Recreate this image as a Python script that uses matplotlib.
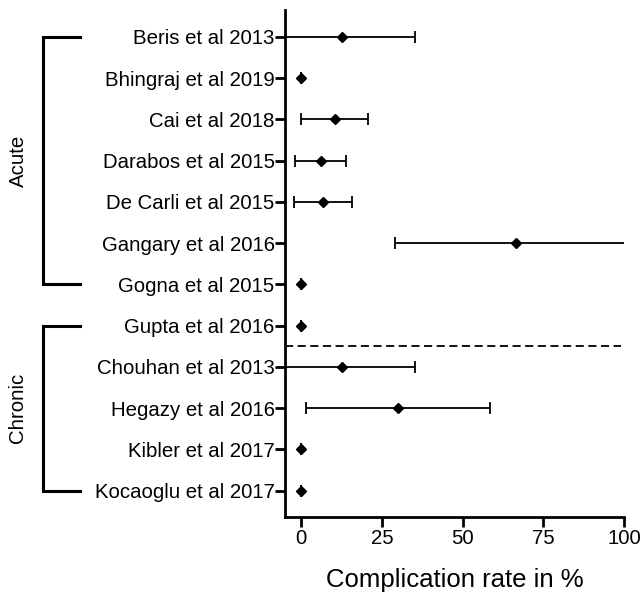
import numpy as np
import matplotlib
matplotlib.use("Agg")
import matplotlib.pyplot as plt
from matplotlib.transforms import blended_transform_factory

plt.rcParams['font.family'] = ['Liberation Sans', 'DejaVu Sans']

# ======================================================
# DATA
# ======================================================
studies = ["Beris et al 2013", "Bhingraj et al 2019", "Cai et al 2018",
           "Darabos et al 2015", "De Carli et al 2015", "Gangary et al 2016",
           "Gogna et al 2015", "Gupta et al 2016", "Chouhan et al 2013",
           "Hegazy et al 2016", "Kibler et al 2017", "Kocaoglu et al 2017"]
rate = [12.5, 0, 10.4, 6.0, 6.7, 66.7, 0, 0, 12.5, 30.0, 0, 0]
ci_low = [-10.4, 0, 0.0, -2.0, -2.3, 29.1, 0, 0, -10.4, 1.6, 0, 0]
ci_high = [35.4, 0, 20.8, 14.0, 15.6, 104.3, 0, 0, 35.4, 58.4, 0, 0]
groups = [("Acute", 0, 6), ("Chronic", 7, 11)]
split_at = 7.5
xticks = [0, 25, 50, 75, 100]

# ======================================================
# FIGURE
# ======================================================
fig = plt.figure(figsize=(6.43, 5.92), dpi=100)
ax = fig.add_axes([285 / 643, 1 - 517 / 592, (624 - 285) / 643, (517 - 10) / 592])

y = np.arange(len(studies))
rate = np.array(rate)
err = [rate - np.array(ci_low), np.array(ci_high) - rate]

ax.errorbar(rate, y, xerr=err, fmt='D', color='black', markersize=5,
            elinewidth=1.3, capsize=4.5, capthick=1.3, clip_on=True)

# dashed separator between the two groups
ax.plot([-5, 99], [split_at, split_at], color='black', linestyle='--',
        linewidth=1.3, dashes=(4.5, 2.5))

ax.set_xlim(-5, 100)
ax.set_ylim(len(studies) - 1 + 0.64, -0.65)
ax.set_yticks(y)
ax.set_yticklabels(studies, fontsize=14.7)
ax.set_xticks(xticks)
ax.set_xticklabels([str(t) for t in xticks], fontsize=14.7)
ax.set_xlabel("Complication rate in %", fontsize=18.5, labelpad=14)

for side in ['top', 'right']:
    ax.spines[side].set_visible(False)
for side in ['left', 'bottom']:
    ax.spines[side].set_linewidth(2.0)
ax.tick_params(axis='both', width=2.0, length=7, pad=0.5)
ax.tick_params(axis='x', pad=2)

# group brackets on the left
trans = blended_transform_factory(fig.transFigure, ax.transData)
xv = 43 / 643
xa = 80 / 643
for name, start, end in groups:
    ax.plot([xa, xv, xv, xa], [start, start, end, end], color='black',
            linewidth=2.2, transform=trans, clip_on=False,
            solid_joinstyle='miter')
    ax.text(18 / 643, (start + end) / 2, name, rotation=90, fontsize=14.7,
            ha='center', va='center', transform=trans)

fig.savefig("out.png", dpi=100)
